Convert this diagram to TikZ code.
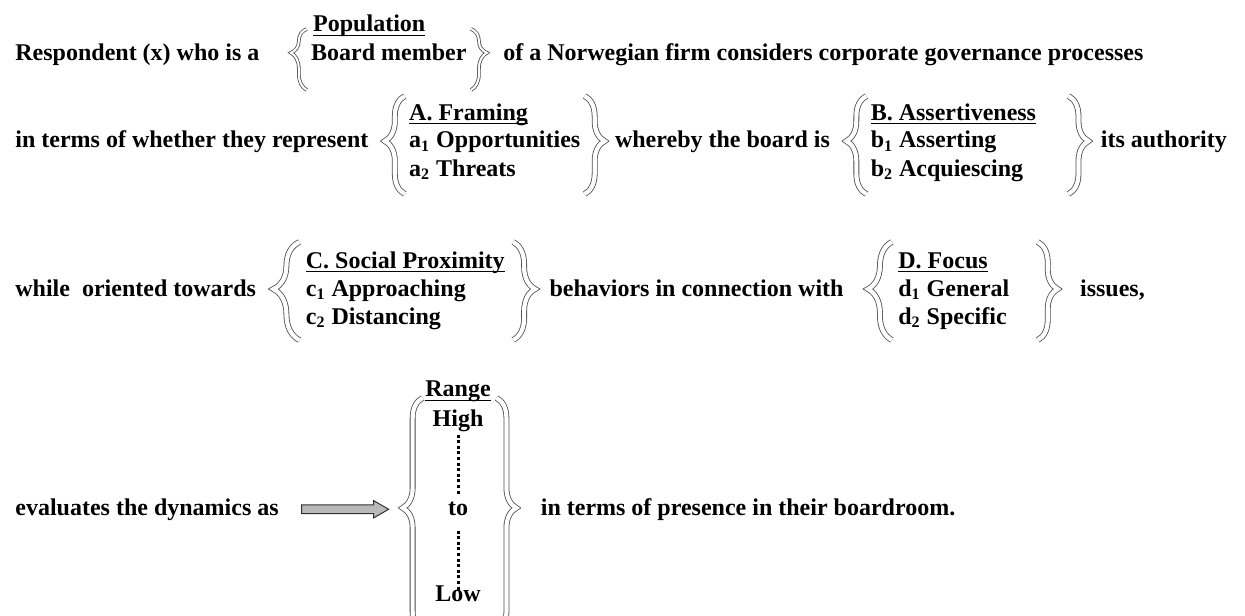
\documentclass[tikz,border=0pt]{standalone}
\usepackage{fontspec}
\setmainfont{Liberation Serif}
\usetikzlibrary{positioning, decorations.pathreplacing, shapes.arrows}
\newcommand\hdul[1]{\setbox0\hbox{#1}\rlap{\vrule height -1.3pt depth 2.2pt width \wd0}\box0}

\begin{document}
\begin{tikzpicture}[x=0.5pt, y=-0.5pt,
  txt/.style={font=\bfseries\fontsize{12}{14}\selectfont, inner sep=0pt},
  curly/.style 2 args={decorate, decoration={brace, amplitude=#1, aspect=#2},
    draw=gray!60!black, line width=0.4pt, double=white, double distance=2.1pt},
  bigarrow/.style={single arrow, draw=gray!40!black, fill=gray!55, line width=0.5pt,
    minimum height=43.5pt, inner sep=1.9pt, single arrow head extend=2.2pt,
    single arrow tip angle=60},
  dotline/.style={line width=1.5pt, dash pattern=on 1.5pt off 1.3pt}]
  \useasboundingbox (0,0) rectangle (1245,615);
  \clip (0,0) rectangle (1245,615);
  % population
  \node[txt, anchor=base west] (resp) at (15,61) {Respondent (x) who is a};
  \node[txt, base right=25.5pt of resp] (board) {Board member};
  \node[txt, anchor=base west] (pop) at ([shift={(1pt,14.5pt)}]board.base west) {\hdul{Population}};
  \node[txt, base right=18pt of board] (firm) {of a Norwegian firm considers corporate governance processes};
  \draw[curly={8pt}{0.61}, double distance=1pt] ([shift={(-2pt,-14.5pt)}]board.base west) -- ([shift={(-2pt,16pt)}]board.base west);
  \draw[curly={8pt}{0.39}, double distance=1pt] ([shift={(2pt,16pt)}]board.base east) -- ([shift={(2pt,-14.5pt)}]board.base east);
  % framing and assertiveness
  \node[txt, anchor=base west] (terms) at (15,148) {in terms of whether they represent};
  \node[txt, base right=20pt of terms] (a1) {a\textsubscript{1} Opportunities};
  \node[txt, anchor=base west] (ah) at ([yshift=14pt]a1.base west) {\hdul{A. Framing}};
  \node[txt, anchor=base west] (a2) at ([yshift=-14pt]a1.base west) {a\textsubscript{2} Threats};
  \draw[curly={10pt}{0.54}] ([shift={(-2pt,-23pt)}]a1.base west) -- ([shift={(-2pt,26pt)}]a1.base west);
  \draw[curly={10pt}{0.46}] ([shift={(2pt,26pt)}]a1.base east) -- ([shift={(2pt,-23pt)}]a1.base east);
  \node[txt, base right=17pt of a1] (whereby) {whereby the board is};
  \node[txt, base right=20pt of whereby] (b1) {b\textsubscript{1} Asserting};
  \node[txt, anchor=base west] (bh) at ([yshift=14pt]b1.base west) {\hdul{B. Assertiveness}};
  \node[txt, anchor=base west] (b2) at ([yshift=-14pt]b1.base west) {b\textsubscript{2} Acquiescing};
  \coordinate (bR) at (bh.east |- b1.base);
  \draw[curly={10pt}{0.54}] ([shift={(-2pt,-23pt)}]b1.base west) -- ([shift={(-2pt,26pt)}]b1.base west);
  \draw[curly={10pt}{0.46}] ([shift={(16pt,26pt)}]bR) -- ([shift={(16pt,-23pt)}]bR);
  \node[txt, anchor=base west] (auth) at ([xshift=32pt]bR) {its authority};
  % proximity and focus
  \node[txt, anchor=base west] (while) at (15,296) {while~\ oriented towards};
  \node[txt, base right=24.5pt of while] (c1) {c\textsubscript{1} Approaching};
  \node[txt, anchor=base west] (ch) at ([yshift=14pt]c1.base west) {\hdul{C. Social Proximity}};
  \node[txt, anchor=base west] (c2) at ([yshift=-14pt]c1.base west) {c\textsubscript{2} Distancing};
  \coordinate (cR) at (ch.east |- c1.base);
  \draw[curly={13pt}{0.52}] ([shift={(-3pt,-22pt)}]c1.base west) -- ([shift={(-3pt,27pt)}]c1.base west);
  \draw[curly={11pt}{0.48}] ([shift={(4pt,27pt)}]cR) -- ([shift={(4pt,-22pt)}]cR);
  \node[txt, anchor=base west] (behav) at ([xshift=22pt]cR) {behaviors in connection with};
  \node[txt, base right=27pt of behav] (d1) {d\textsubscript{1} General};
  \node[txt, anchor=base west] (dh) at ([yshift=14pt]d1.base west) {\hdul{D. Focus}};
  \node[txt, anchor=base west] (d2) at ([yshift=-14pt]d1.base west) {d\textsubscript{2} Specific};
  \draw[curly={12pt}{0.52}] ([shift={(-3pt,-22pt)}]d1.base west) -- ([shift={(-3pt,27pt)}]d1.base west);
  \draw[curly={10pt}{0.48}] ([shift={(14pt,27pt)}]d1.base east) -- ([shift={(14pt,-22pt)}]d1.base east);
  \node[txt, anchor=base west] (issues) at ([xshift=35pt]d1.base east) {issues,};
  % range
  \node[txt, anchor=base west] (eval) at (15,515) {evaluates the dynamics as};
  \node[bigarrow, right=11pt of eval] (arr) {};
  \node[txt, right=29pt of arr] (to) {to};
  \node[txt, anchor=base] (high) at ([yshift=44.5pt]to.base) {High};
  \node[txt, anchor=base] (low) at ([yshift=-43pt]to.base) {Low};
  \node[txt, anchor=base] (range) at ([yshift=59.5pt]to.base) {\hdul{Range}};
  \draw[dotline] ([yshift=-1pt]high.south) -- ([yshift=3pt]high.south |- to.north);
  \draw[dotline] ([yshift=-7pt]high.south |- to.south) -- ([yshift=-2pt]high.south |- low.north);
  \draw[curly={10pt}{0.53}] ([shift={(-12.5pt,-58pt)}]to.base west) -- ([shift={(-12.5pt,59pt)}]to.base west);
  \draw[curly={10pt}{0.47}] ([shift={(14pt,59pt)}]to.base east) -- ([shift={(14pt,-58pt)}]to.base east);
  \node[txt, anchor=base west] (pres) at ([xshift=36pt]to.base east) {in terms of presence in their boardroom.};
\end{tikzpicture}
\end{document}
